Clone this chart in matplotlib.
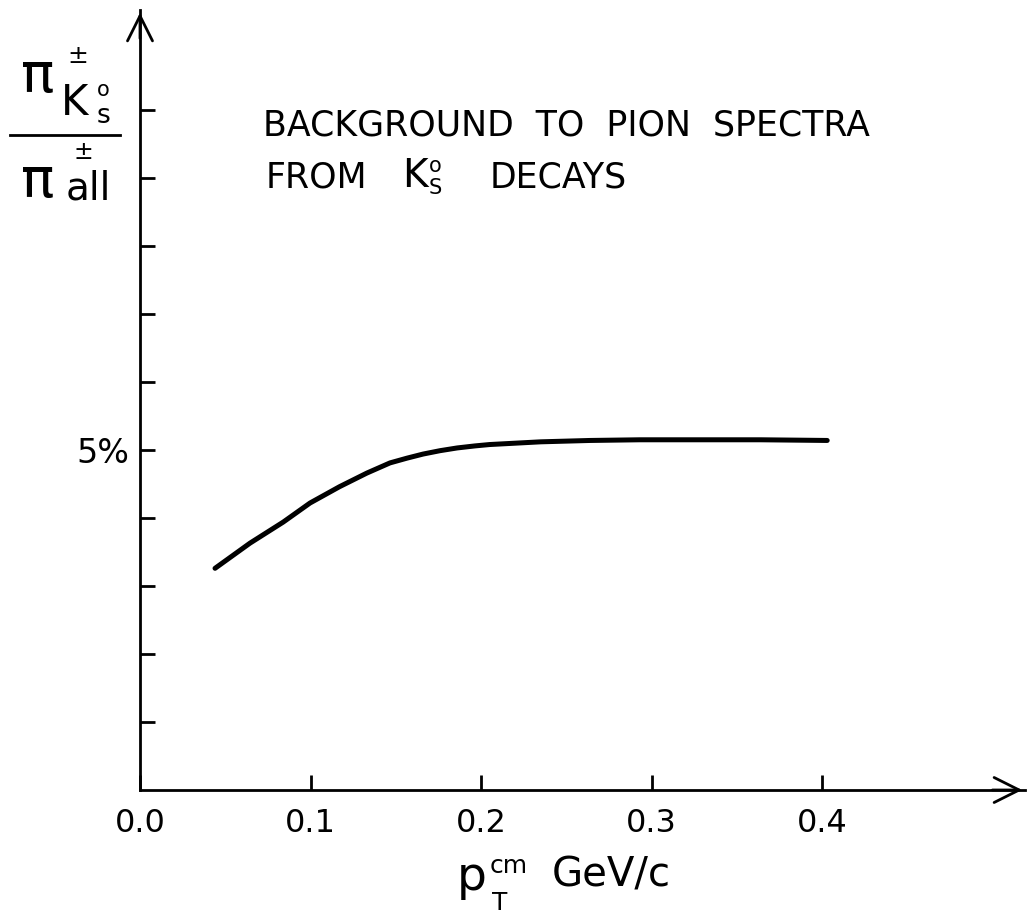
import matplotlib.pyplot as plt
import numpy as np

# values: pT (GeV/c) vs. fraction (%)
pt = [0.044, 0.0645, 0.084, 0.0997, 0.117, 0.133, 0.1466, 0.1566, 0.166,
      0.176, 0.186, 0.1965, 0.205, 0.220, 0.235, 0.264, 0.293, 0.328,
      0.364, 0.403]
frac = [3.26, 3.63, 3.94, 4.22, 4.46, 4.66, 4.81, 4.88, 4.94,
        4.99, 5.03, 5.06, 5.08, 5.10, 5.12, 5.14, 5.15, 5.15,
        5.15, 5.14]

xticks = [0.0, 0.1, 0.2, 0.3, 0.4]
xlabels = ['0.0', '0.1', '0.2', '0.3', '0.4']
yticks = [1, 2, 3, 4, 5, 6, 7, 8, 9, 10]
ylabels = ['', '', '', '', '5%', '', '', '', '', '']

W, H = 1027, 917
fig = plt.figure(figsize=(W / 100, H / 100), dpi=100)
ax = fig.add_axes([140 / W, 127 / H, 885 / W, 780 / H])
ax.set_xlim(0, 0.519)
ax.set_ylim(0, 11.47)

ax.plot(pt, frac, color='black', lw=3.6, solid_capstyle='round',
        solid_joinstyle='round')

for s in ['top', 'right']:
    ax.spines[s].set_visible(False)
for s in ['left', 'bottom']:
    ax.spines[s].set_linewidth(2.0)

ax.set_xticks(xticks)
ax.set_xticklabels(xlabels, fontsize=23)
ax.set_yticks(yticks)
ax.set_yticklabels(ylabels, fontsize=24)
ax.tick_params(direction='in', length=11, width=2, pad=13)
ax.tick_params(axis='y', pad=8)

# arrow heads at the ends of the axes
ax.annotate('', xy=(0, 1), xytext=(0, 0.96), xycoords='axes fraction',
            arrowprops=dict(arrowstyle='->,head_length=0.9,head_width=0.45',
                            lw=2.0, color='black', mutation_scale=20))
ax.annotate('', xy=(1, 0), xytext=(0.96, 0), xycoords='axes fraction',
            arrowprops=dict(arrowstyle='->,head_length=0.9,head_width=0.45',
                            lw=2.0, color='black', mutation_scale=20))


def t(px, py, s, size, **kw):
    fig.text(px / W, 1 - py / H, s, fontsize=size, **kw)


# title inside the plot
t(263, 126, 'BACKGROUND  TO  PION  SPECTRA', 25, va='center', ha='left')
t(266, 177, 'FROM', 25, va='center', ha='left')
t(402, 176, 'K', 28, va='center', ha='left')
t(429, 166, 'o', 15, va='center', ha='left')
t(429, 188, 'S', 15, va='center', ha='left')
t(490, 177, 'DECAYS', 25, va='center', ha='left')

# y axis label as a fraction
t(38, 77, 'π', 40, va='center', ha='center')
t(78, 56, '±', 18, va='center', ha='center')
t(75, 103, 'K', 30, va='center', ha='center')
t(103, 90, 'o', 15, va='center', ha='center')
t(104, 116, 's', 19, va='center', ha='center')
fig.add_artist(plt.Line2D([10 / W, 120 / W], [1 - 135 / H, 1 - 135 / H],
                          color='black', lw=2.0))
t(38, 182, 'π', 40, va='center', ha='center')
t(83, 152, '±', 17, va='center', ha='center')
t(88, 189, 'all', 28, va='center', ha='center')

# x axis label
t(472, 878, 'p', 34, va='center', ha='center')
t(509, 866, 'cm', 18, va='center', ha='center')
t(500, 903, 'T', 18, va='center', ha='center')
t(552, 875, 'GeV/c', 29, va='center', ha='left')

fig.savefig('out.png', dpi=100)
